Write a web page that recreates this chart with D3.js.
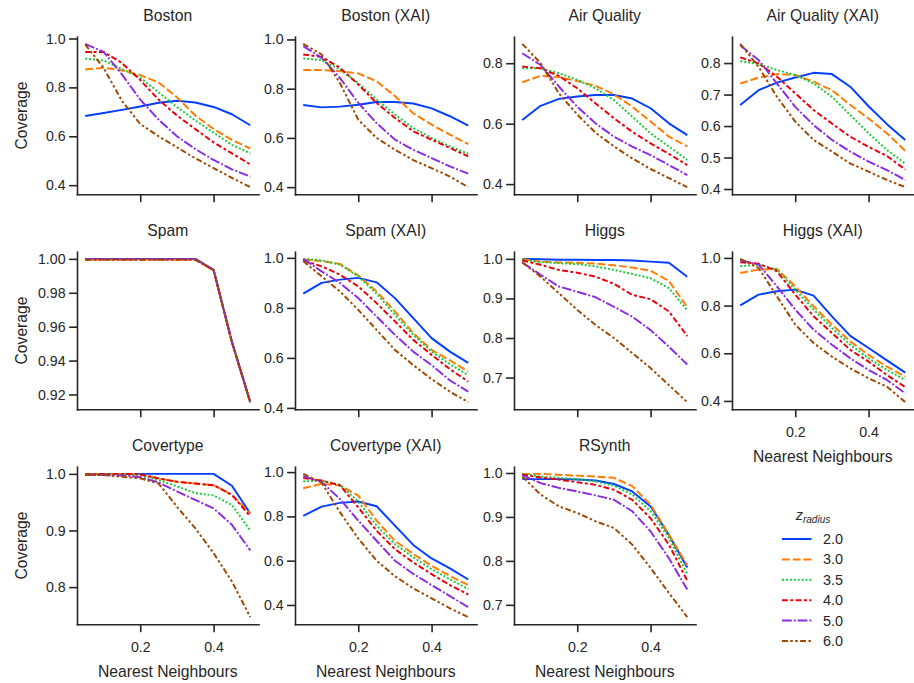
<!DOCTYPE html>
<html>
<head>
<meta charset="utf-8">
<script src="https://cdn.jsdelivr.net/npm/d3@7"></script>
<style>
  html, body { margin: 0; padding: 0; background: #fff; }
  svg { display: block; font-family: "Liberation Sans", Arial, sans-serif; }
  .axis path, .axis line { stroke: #262626; stroke-width: 1.6; }
  .axis text { fill: #262626; font-size: 14.2px; }
  .title, .label { fill: #262626; font-size: 15.7px; }
  .legend text { fill: #262626; font-size: 14.4px; }
</style>
</head>
<body>
<svg id="chart" width="914" height="683"></svg>
<script>
// x values shared by every panel
const neighbours = [0.05, 0.10, 0.15, 0.20, 0.25, 0.30, 0.35, 0.40, 0.45, 0.50];
const radii = ["2.0", "3.0", "3.5", "4.0", "5.0", "6.0"];
const xTicks = [0.2, 0.4];

const titles = ["Boston", "Boston (XAI)", "Air Quality", "Air Quality (XAI)",
  "Spam", "Spam (XAI)", "Higgs", "Higgs (XAI)",
  "Covertype", "Covertype (XAI)", "RSynth"];

// coverage per radius, rows in the order of `radii`
const boston = [
  [0.683, 0.695, 0.708, 0.722, 0.737, 0.745, 0.738, 0.720, 0.690, 0.645],
  [0.873, 0.880, 0.870, 0.850, 0.820, 0.760, 0.685, 0.630, 0.585, 0.550],
  [0.918, 0.910, 0.875, 0.840, 0.780, 0.720, 0.665, 0.615, 0.565, 0.530],
  [0.945, 0.945, 0.900, 0.830, 0.750, 0.685, 0.630, 0.575, 0.530, 0.485],
  [0.978, 0.945, 0.853, 0.750, 0.668, 0.600, 0.548, 0.503, 0.465, 0.435],
  [0.975, 0.880, 0.745, 0.650, 0.600, 0.555, 0.510, 0.470, 0.430, 0.392]
];
const bostonXai = [
  [0.734, 0.724, 0.727, 0.735, 0.746, 0.746, 0.740, 0.720, 0.688, 0.650],
  [0.876, 0.876, 0.871, 0.862, 0.830, 0.770, 0.700, 0.654, 0.613, 0.575],
  [0.923, 0.916, 0.878, 0.823, 0.756, 0.695, 0.640, 0.600, 0.566, 0.535],
  [0.939, 0.929, 0.885, 0.817, 0.742, 0.681, 0.627, 0.593, 0.559, 0.525],
  [0.973, 0.925, 0.844, 0.742, 0.660, 0.593, 0.552, 0.518, 0.484, 0.455],
  [0.982, 0.939, 0.823, 0.674, 0.600, 0.552, 0.510, 0.477, 0.443, 0.400]
];
const airQuality = [
  [0.612, 0.659, 0.682, 0.690, 0.695, 0.695, 0.683, 0.651, 0.601, 0.562],
  [0.737, 0.758, 0.754, 0.741, 0.725, 0.697, 0.656, 0.607, 0.557, 0.525],
  [0.783, 0.783, 0.767, 0.745, 0.717, 0.678, 0.623, 0.568, 0.524, 0.480],
  [0.789, 0.783, 0.758, 0.717, 0.667, 0.618, 0.573, 0.535, 0.500, 0.463],
  [0.833, 0.794, 0.723, 0.656, 0.601, 0.557, 0.524, 0.496, 0.463, 0.430],
  [0.864, 0.800, 0.700, 0.630, 0.570, 0.525, 0.485, 0.450, 0.420, 0.390]
];
const airQualityXai = [
  [0.667, 0.714, 0.738, 0.754, 0.769, 0.765, 0.725, 0.663, 0.606, 0.556],
  [0.735, 0.754, 0.765, 0.762, 0.741, 0.714, 0.667, 0.624, 0.577, 0.521],
  [0.806, 0.797, 0.778, 0.762, 0.735, 0.693, 0.635, 0.577, 0.524, 0.481],
  [0.818, 0.799, 0.757, 0.704, 0.651, 0.608, 0.566, 0.534, 0.505, 0.462],
  [0.856, 0.810, 0.735, 0.661, 0.603, 0.556, 0.519, 0.487, 0.460, 0.429],
  [0.861, 0.788, 0.693, 0.614, 0.556, 0.519, 0.481, 0.455, 0.429, 0.406]
];
const spam = [
  [1.000, 1.000, 1.000, 1.000, 1.000, 1.000, 1.000, 0.9935, 0.951, 0.9155],
  [0.9995, 0.9995, 0.9995, 0.9995, 0.9995, 0.9995, 0.9995, 0.9933, 0.951, 0.9155],
  [1.000, 1.000, 1.000, 1.000, 1.000, 1.000, 1.000, 0.9935, 0.951, 0.9155],
  [0.9997, 0.9997, 0.9997, 0.9997, 0.9997, 0.9997, 0.9997, 0.9934, 0.951, 0.9155],
  [1.000, 1.000, 1.000, 1.000, 1.000, 1.000, 1.000, 0.9935, 0.951, 0.9155],
  [0.9995, 0.9995, 0.9995, 0.9995, 0.9995, 0.9995, 0.9995, 0.9933, 0.951, 0.9155]
];
const spamXai = [
  [0.857, 0.900, 0.913, 0.920, 0.902, 0.839, 0.759, 0.679, 0.625, 0.580],
  [0.993, 0.987, 0.976, 0.929, 0.866, 0.786, 0.699, 0.632, 0.590, 0.545],
  [0.996, 0.990, 0.973, 0.926, 0.857, 0.772, 0.692, 0.625, 0.575, 0.530],
  [0.990, 0.966, 0.933, 0.886, 0.819, 0.746, 0.672, 0.612, 0.555, 0.505],
  [0.996, 0.946, 0.900, 0.839, 0.766, 0.692, 0.625, 0.571, 0.510, 0.465],
  [0.987, 0.926, 0.866, 0.792, 0.712, 0.632, 0.571, 0.515, 0.465, 0.423]
];
const higgs = [
  [1.000, 0.999, 0.998, 0.998, 0.997, 0.997, 0.996, 0.993, 0.990, 0.955],
  [0.999, 0.993, 0.991, 0.990, 0.988, 0.984, 0.978, 0.970, 0.944, 0.878],
  [0.997, 0.992, 0.989, 0.987, 0.981, 0.972, 0.962, 0.951, 0.926, 0.870],
  [0.996, 0.985, 0.972, 0.965, 0.955, 0.937, 0.909, 0.898, 0.867, 0.805],
  [0.991, 0.960, 0.930, 0.917, 0.903, 0.879, 0.854, 0.820, 0.778, 0.733],
  [0.991, 0.955, 0.913, 0.871, 0.833, 0.800, 0.762, 0.724, 0.681, 0.638]
];
const higgsXai = [
  [0.801, 0.846, 0.860, 0.867, 0.842, 0.755, 0.673, 0.622, 0.570, 0.519],
  [0.937, 0.951, 0.954, 0.881, 0.797, 0.720, 0.650, 0.593, 0.544, 0.502],
  [0.965, 0.972, 0.951, 0.867, 0.783, 0.706, 0.636, 0.579, 0.530, 0.488],
  [0.982, 0.976, 0.944, 0.846, 0.755, 0.685, 0.614, 0.565, 0.509, 0.458],
  [0.990, 0.972, 0.881, 0.783, 0.699, 0.636, 0.579, 0.530, 0.488, 0.432],
  [0.996, 0.958, 0.839, 0.720, 0.643, 0.586, 0.537, 0.495, 0.460, 0.395]
];
const covertype = [
  [1.000, 1.000, 1.000, 1.000, 1.000, 1.000, 1.000, 1.000, 0.979, 0.930],
  [0.999, 1.000, 1.000, 0.999, 0.992, 0.986, 0.983, 0.980, 0.963, 0.930],
  [0.999, 1.000, 0.999, 0.998, 0.989, 0.978, 0.966, 0.962, 0.945, 0.900],
  [0.999, 1.000, 1.000, 0.999, 0.992, 0.986, 0.983, 0.980, 0.963, 0.925],
  [0.998, 0.998, 0.997, 0.994, 0.985, 0.969, 0.954, 0.939, 0.910, 0.865],
  [0.998, 0.998, 0.995, 0.992, 0.983, 0.942, 0.904, 0.860, 0.810, 0.747]
];
const covertypeXai = [
  [0.802, 0.844, 0.861, 0.867, 0.846, 0.758, 0.671, 0.610, 0.565, 0.515],
  [0.927, 0.947, 0.940, 0.894, 0.781, 0.690, 0.630, 0.577, 0.531, 0.490],
  [0.958, 0.962, 0.943, 0.867, 0.758, 0.675, 0.615, 0.562, 0.516, 0.472],
  [0.973, 0.962, 0.940, 0.841, 0.735, 0.652, 0.592, 0.539, 0.490, 0.447],
  [0.982, 0.955, 0.879, 0.781, 0.690, 0.600, 0.540, 0.490, 0.440, 0.390],
  [0.992, 0.952, 0.819, 0.700, 0.600, 0.530, 0.475, 0.430, 0.385, 0.345]
];
const rsynth = [
  [0.986, 0.986, 0.986, 0.985, 0.983, 0.975, 0.958, 0.924, 0.859, 0.785],
  [0.998, 0.998, 0.996, 0.994, 0.992, 0.989, 0.970, 0.928, 0.860, 0.790],
  [0.998, 0.992, 0.989, 0.986, 0.981, 0.971, 0.951, 0.913, 0.852, 0.770],
  [0.996, 0.990, 0.985, 0.979, 0.973, 0.962, 0.939, 0.897, 0.837, 0.755],
  [0.995, 0.977, 0.966, 0.958, 0.949, 0.939, 0.913, 0.867, 0.806, 0.735],
  [0.992, 0.951, 0.924, 0.909, 0.890, 0.875, 0.837, 0.784, 0.727, 0.672]
];

const yTicks = [
  [0.4, 0.6, 0.8, 1.0], [0.4, 0.6, 0.8, 1.0], [0.4, 0.6, 0.8], [0.4, 0.5, 0.6, 0.7, 0.8],
  [0.92, 0.94, 0.96, 0.98, 1.00], [0.4, 0.6, 0.8, 1.0], [0.7, 0.8, 0.9, 1.0], [0.4, 0.6, 0.8, 1.0],
  [0.8, 0.9, 1.0], [0.4, 0.6, 0.8, 1.0], [0.7, 0.8, 0.9, 1.0]
];

const datasets = [boston, bostonXai, airQuality, airQualityXai, spam, spamXai,
  higgs, higgsXai, covertype, covertypeXai, rsynth];

// seaborn "bright" palette and its default style dashes (in linewidth units)
const colors = ["#023eff", "#ff7c00", "#1ac938", "#e8000b", "#8b2be2", "#9f4800"];
const dashUnits = [null, [4, 1.5], [1, 1], [3, 1.25, 1.5, 1.25], [5, 1, 1, 1],
  [3, 1.25, 1.25, 1.25, 1.25, 1.25]];
const lineWidth = 1.96;
const dashArray = i => dashUnits[i] ? dashUnits[i].map(d => d * lineWidth).join(",") : null;

const colLeft = [77, 295, 514, 732];
const rowTop = [36.7, 251.7, 466.7];
const panelW = 181.5;
const panelH = 157.6;
const tickLen = 7.9;

const svg = d3.select("#chart");

datasets.forEach((series, i) => {
  const col = i % 4;
  const row = Math.floor(i / 4);
  const left = colLeft[col];
  const top = rowTop[row];
  const showXLabels = row === 2 || i === 7;

  const xPad = (d3.max(neighbours) - d3.min(neighbours)) * 0.05;
  const x = d3.scaleLinear()
    .domain([d3.min(neighbours) - xPad, d3.max(neighbours) + xPad])
    .range([left, left + panelW]);

  const lo = d3.min(series, s => d3.min(s));
  const hi = d3.max(series, s => d3.max(s));
  const yPad = (hi - lo) * 0.05;
  const y = d3.scaleLinear()
    .domain([lo - yPad, hi + yPad])
    .range([top + panelH, top]);

  const decimals = i === 4 ? ".2f" : ".1f";

  svg.append("g")
    .attr("class", "axis")
    .attr("transform", `translate(${left},0)`)
    .call(d3.axisLeft(y).tickValues(yTicks[i]).tickFormat(d3.format(decimals))
      .tickSize(tickLen).tickSizeOuter(0).tickPadding(3.5));

  svg.append("g")
    .attr("class", "axis")
    .attr("transform", `translate(0,${top + panelH})`)
    .call(d3.axisBottom(x).tickValues(xTicks)
      .tickFormat(showXLabels ? d3.format(".1f") : () => "")
      .tickSize(tickLen).tickSizeOuter(0).tickPadding(9.3));

  svg.selectAll(".axis .domain").attr("stroke-linecap", "square");

  const line = d3.line()
    .x((d, k) => x(neighbours[k]))
    .y(d => y(d));

  series.forEach((values, s) => {
    svg.append("path")
      .datum(values)
      .attr("d", line)
      .attr("fill", "none")
      .attr("stroke", colors[s])
      .attr("stroke-width", lineWidth)
      .attr("stroke-linejoin", "round")
      .attr("stroke-dasharray", dashArray(s));
  });

  svg.append("text")
    .attr("class", "title")
    .attr("x", left + panelW / 2)
    .attr("y", top - 16)
    .attr("text-anchor", "middle")
    .text(titles[i]);

  if (showXLabels) {
    svg.append("text")
      .attr("class", "label")
      .attr("x", left + panelW / 2)
      .attr("y", top + panelH + 52.4)
      .attr("text-anchor", "middle")
      .text("Nearest Neighbours");
  }

  if (col === 0) {
    svg.append("text")
      .attr("class", "label")
      .attr("transform", `translate(26.5,${top + panelH / 2}) rotate(-90)`)
      .attr("text-anchor", "middle")
      .text("Coverage");
  }
});

// legend in the empty bottom-right cell
const legend = svg.append("g").attr("class", "legend");
const legendX = 782;
const legendY = 539;
const legendStep = 20.4;

const legendTitle = legend.append("text")
  .attr("x", legendX + 31)
  .attr("y", legendY - 19)
  .attr("text-anchor", "middle");
legendTitle.append("tspan").attr("font-style", "italic").text("z");
legendTitle.append("tspan").attr("font-style", "italic")
  .attr("font-size", "10px").attr("dy", 3).text("radius");

radii.forEach((r, s) => {
  const ly = legendY + s * legendStep;
  legend.append("line")
    .attr("x1", legendX).attr("x2", legendX + 29.5)
    .attr("y1", ly).attr("y2", ly)
    .attr("stroke", colors[s])
    .attr("stroke-width", lineWidth)
    .attr("stroke-dasharray", dashArray(s));
  legend.append("text")
    .attr("x", legendX + 41)
    .attr("y", ly)
    .attr("dy", "0.35em")
    .text(r);
});
</script>
</body>
</html>
